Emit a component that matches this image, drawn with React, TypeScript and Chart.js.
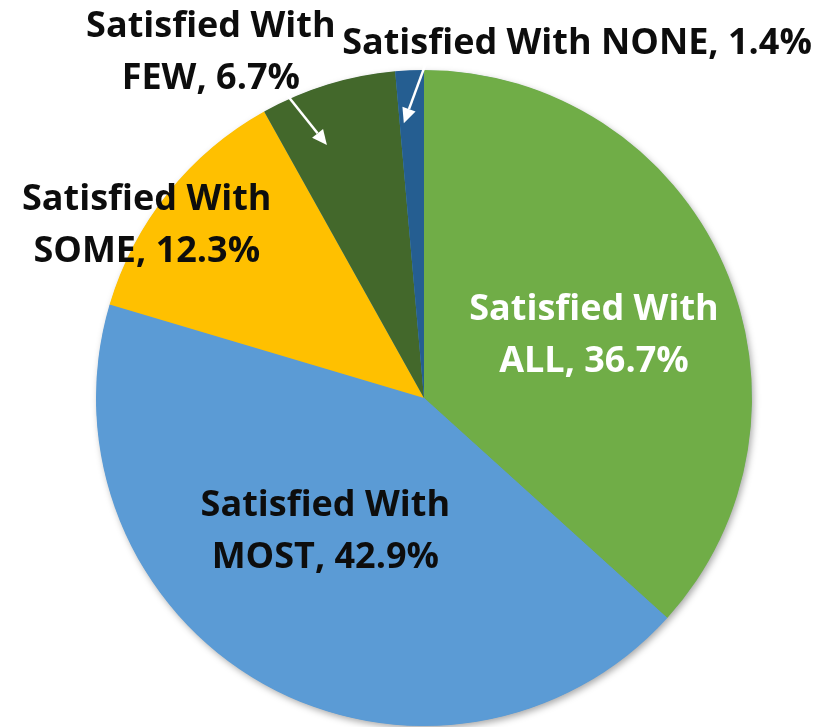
import React, { useEffect, useRef } from "react";
import { Chart, registerables } from "chart.js";

Chart.register(...registerables);

const categories = ["ALL", "MOST", "SOME", "FEW", "NONE"];
const values = [36.7, 42.9, 12.3, 6.7, 1.4];
const sliceColors = ["#70AD47", "#5B9BD5", "#FFC000", "#43682B", "#255E91"];
const labelPrefix = "Satisfied With";

// label placement: angle (deg clockwise from top), radius factor, colour, single-line?
const labelLayout = [
  { deg: 69, f: 0.555, color: "#FFFFFF", single: false },
  { deg: 217, f: 0.5, color: "#0D0D0D", single: false },
  { deg: 302.3, f: 1.0, color: "#0D0D0D", single: false },
  { deg: 328.5, f: 1.244, color: "#0D0D0D", single: false },
  { deg: 23.2, f: 1.184, color: "#0D0D0D", single: true },
];

// leader arrows for small slices: from/to as (deg, radius factor)
const arrowLayout = [
  { from: [335.7, 1.013], to: [339, 0.826] },
  { from: [0.7, 1.04], to: [355.8, 0.84] },
];

const FONT_SIZE = 36;
const FONT = `bold ${FONT_SIZE}px "Open Sans"`;
const CAP = 0.714 * FONT_SIZE;
const LINE_GAP = 52;

function polar(cx: number, cy: number, r: number, deg: number, f: number) {
  const a = (deg * Math.PI) / 180;
  return { x: cx + r * f * Math.sin(a), y: cy - r * f * Math.cos(a) };
}

const decorPlugin = {
  id: "decor",
  beforeDatasetsDraw(chart: any) {
    const meta = chart.getDatasetMeta(0);
    const arc = meta.data[0];
    if (!arc) return;
    const { x, y, outerRadius } = arc.getProps(["x", "y", "outerRadius"], true);
    const ctx = chart.ctx;
    ctx.save();
    ctx.shadowColor = "rgba(0,0,0,0.35)";
    ctx.shadowBlur = 7;
    ctx.shadowOffsetX = 2;
    ctx.shadowOffsetY = 3;
    ctx.fillStyle = "#5B9BD5";
    ctx.beginPath();
    ctx.arc(x, y, outerRadius - 0.5, 0, Math.PI * 2);
    ctx.fill();
    ctx.restore();
  },
  afterDatasetsDraw(chart: any) {
    const meta = chart.getDatasetMeta(0);
    const arc = meta.data[0];
    if (!arc) return;
    const { x, y, outerRadius } = arc.getProps(["x", "y", "outerRadius"], true);
    const ctx = chart.ctx;
    ctx.save();
    arrowLayout.forEach((a) => {
      const p0 = polar(x, y, outerRadius, a.from[0], a.from[1]);
      const p1 = polar(x, y, outerRadius, a.to[0], a.to[1]);
      const ang = Math.atan2(p1.y - p0.y, p1.x - p0.x);
      const headLen = 15;
      const headW = 7;
      const bx = p1.x - headLen * Math.cos(ang);
      const by = p1.y - headLen * Math.sin(ang);
      ctx.strokeStyle = "#FFFFFF";
      ctx.fillStyle = "#FFFFFF";
      ctx.lineWidth = 2.5;
      ctx.beginPath();
      ctx.moveTo(p0.x, p0.y);
      ctx.lineTo(bx, by);
      ctx.stroke();
      ctx.beginPath();
      ctx.moveTo(p1.x, p1.y);
      ctx.lineTo(bx + headW * Math.sin(ang), by - headW * Math.cos(ang));
      ctx.lineTo(bx - headW * Math.sin(ang), by + headW * Math.cos(ang));
      ctx.closePath();
      ctx.fill();
    });
    ctx.font = FONT;
    ctx.textAlign = "center";
    ctx.textBaseline = "alphabetic";
    categories.forEach((cat, i) => {
      const L = labelLayout[i];
      const p = polar(x, y, outerRadius, L.deg, L.f);
      const second = `${cat}, ${values[i]}%`;
      ctx.fillStyle = L.color;
      if (L.single) {
        ctx.fillText(`${labelPrefix} ${second}`, p.x, p.y + CAP / 2);
      } else {
        ctx.fillText(labelPrefix, p.x, p.y - LINE_GAP / 2 + CAP / 2);
        ctx.fillText(second, p.x, p.y + LINE_GAP / 2 + CAP / 2);
      }
    });
    ctx.restore();
  },
};

export default function App() {
  const ref = useRef<HTMLCanvasElement | null>(null);
  useEffect(() => {
    if (!ref.current) return;
    const chart = new Chart(ref.current, {
      type: "pie",
      data: {
        labels: categories.map((c) => `${labelPrefix} ${c}`),
        datasets: [
          {
            data: values,
            backgroundColor: sliceColors,
            borderWidth: 0,
          },
        ],
      },
      options: {
        responsive: false,
        animation: false,
        layout: { padding: { left: 96, right: 76, top: 70, bottom: 1 } },
        plugins: {
          legend: { display: false },
          tooltip: { enabled: false },
        },
      },
      plugins: [decorPlugin],
    });
    return () => chart.destroy();
  }, []);
  return (
    <div style={{ position: "absolute", left: 0, top: 0, width: 828, height: 727, background: "#fff" }}>
      <canvas ref={ref} width={828} height={727} />
    </div>
  );
}
